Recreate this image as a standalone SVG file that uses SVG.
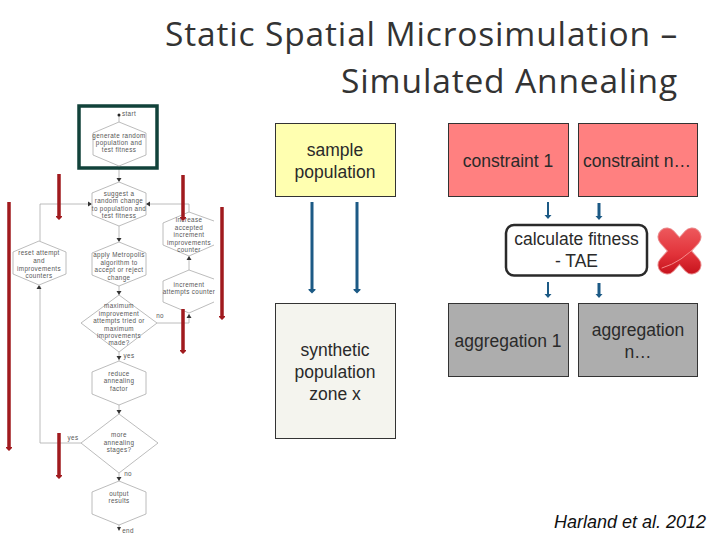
<svg xmlns="http://www.w3.org/2000/svg" width="720" height="540" viewBox="0 0 720 540">
<defs>
<linearGradient id="xg" gradientUnits="userSpaceOnUse" x1="680" y1="227" x2="680" y2="276"><stop offset="0" stop-color="#ee5a5e"/><stop offset=".55" stop-color="#e2333a"/><stop offset="1" stop-color="#c4101a"/></linearGradient>
</defs>
<style>
.t{font-family:"Liberation Sans",Arial,sans-serif;font-size:17.5px;fill:#2a2a2a;text-anchor:middle}
.ti{font-family:"Open Sans","Liberation Sans",sans-serif;font-size:33.5px;fill:#333;text-anchor:end;letter-spacing:.85px}
.f{font-family:"Liberation Sans",Arial,sans-serif;font-size:6.3px;letter-spacing:.36px;fill:#555;text-anchor:middle}
.h{fill:#fff;stroke:#ababab;stroke-width:.8}
.l{fill:none;stroke:#ababab;stroke-width:.8}
.box{stroke:#333;stroke-width:1}
.red{stroke:#a01a1e;stroke-width:3.500;fill:none}
.rh{fill:#a01a1e}
.blue{stroke:#1c5a85;stroke-width:3;fill:none}
.thin{stroke-width:2}
.bh{fill:#1c5a85}
.ah{fill:#333}
</style>
<rect width="720" height="540" fill="#fff"/>
<text class="ti" x="678" y="46">Static Spatial Microsimulation –</text>
<text class="ti" x="678" y="93">Simulated Annealing</text>

<g id="connectors">
<path class="l" d="M119 115V122M119 166V181M119 226V241M119 286V295M119 352V361M119 405V414M119 473V481M119 525V530M81 443H40V286M40 241V204H91M146 204H189V212M157 323H189V314M189 256V270"/>
<path class="ah" d="M119 182l-2.500-4h5zM119 242l-2.500-4h5zM119 295l-2.500-4h5zM119 360l-2.500-4h5zM119 414l-2.500-4h5zM119 481l-2.500-4h5zM119 531l-2-4h4zM92 204l-4-2.500v5zM146 204l4-2.500v5zM39 285l-2.500 4h5zM189 256l-2.500 4h5zM189 314l-2.500 4h5z"/>
</g>

<g id="flowchart" opacity=".99">
<g id="n-start"><rect x="79" y="106" width="78" height="62" fill="none" stroke="#0f4038" stroke-width="3.500"/><circle cx="119" cy="115" r="1.500" fill="#222"/><text class="f" x="129" y="116">start</text></g>
<g id="n-generate"><polygon class="h" points="119,122 146,133 146,155 119,166 93,155 93,133"/><text class="f" x="119" y="138">generate random</text><text class="f" x="119" y="145">population and</text><text class="f" x="119" y="152">test fitness</text></g>
<g id="n-suggest"><polygon class="h" points="119,182 146,193 146,215 119,226 92,215 92,193"/><text class="f" x="119" y="196">suggest a</text><text class="f" x="119" y="203">random change</text><text class="f" x="119" y="210.500">to population and</text><text class="f" x="119" y="218">test fitness</text></g>
<g id="n-apply"><polygon class="h" points="119,242 146,253 146,275 119,286 92,275 92,253"/><text class="f" x="119" y="257">apply Metropolis</text><text class="f" x="119" y="264.500">algorithm to</text><text class="f" x="119" y="272">accept or reject</text><text class="f" x="119" y="279.500">change</text></g>
<g id="n-reset"><polygon class="h" points="39,241 66,252 66,274 39,285 13,274 13,252"/><text class="f" x="39" y="255">reset attempt</text><text class="f" x="39" y="263">and</text><text class="f" x="39" y="270.500">improvements</text><text class="f" x="39" y="278">counters</text></g>
<g id="n-increase"><path class="h" d="M214 221L189 212L163 223V245L189 256L214 245"/><text class="f" x="189" y="222">increase</text><text class="f" x="189" y="230">accepted</text><text class="f" x="189" y="237">increment</text><text class="f" x="189" y="244.500">improvements</text><text class="f" x="189" y="252">counter</text></g>
<g id="n-increment"><path class="h" d="M214 279L189 270L163 281V302L189 313L214 302"/><text class="f" x="189" y="287">increment</text><text class="f" x="189" y="294">attempts counter</text></g>
<g id="n-max"><polygon class="h" points="119,295 157,323 119,352 81,323"/><text class="f" x="119" y="308">maximum</text><text class="f" x="119" y="315.500">improvement</text><text class="f" x="119" y="323">attempts tried or</text><text class="f" x="119" y="330.500">maximum</text><text class="f" x="119" y="338">improvements</text><text class="f" x="119" y="345">made?</text></g>
<g id="n-reduce"><polygon class="h" points="119,361 146,372 146,394 119,405 92,394 92,372"/><text class="f" x="119" y="376">reduce</text><text class="f" x="119" y="383">annealing</text><text class="f" x="119" y="390.500">factor</text></g>
<g id="n-more"><polygon class="h" points="119,414 158,443 119,473 81,443"/><text class="f" x="119" y="437">more</text><text class="f" x="119" y="444.500">annealing</text><text class="f" x="119" y="452">stages?</text></g>
<g id="n-output"><polygon class="h" points="119,481 146,492 146,514 119,525 92,514 92,492"/><text class="f" x="119" y="496">output</text><text class="f" x="119" y="503">results</text></g>
<g id="n-end"><text class="f" x="128" y="533">end</text></g>
<text class="f" x="160" y="318">no</text><text class="f" x="129" y="358">yes</text><text class="f" x="73" y="440">yes</text><text class="f" x="128" y="476">no</text>
</g>

<g id="red-arrows">
<path class="red" d="M59 174V216M183 175V217M9 202V447M222 207V316M183 309V350M59 433V475"/>
<path class="rh" d="M56 216h6v1l-3 3l-3-3zM180 217h6v1l-3 3l-3-3zM6 447h6v1l-3 3l-3-3zM219 316h6v1l-3 3l-3-3zM180 350h6v1l-3 3l-3-3zM56 475h6v1l-3 3l-3-3z"/>
</g>

<g id="sample"><rect class="box" x="275.500" y="123.500" width="120" height="73" fill="#ffffb0"/><text class="t" x="335" y="156">sample</text><text class="t" x="335" y="178">population</text></g>
<g id="synthetic"><rect class="box" x="275.500" y="303.500" width="120" height="135" fill="#f4f4ee"/><text class="t" x="335" y="356">synthetic</text><text class="t" x="335" y="378">population</text><text class="t" x="335" y="400">zone x</text></g>
<g id="constraint1"><rect class="box" x="448.500" y="123.500" width="120" height="73" fill="#ff8080"/><text class="t" x="508" y="167">constraint 1</text></g>
<g id="constraintn"><rect class="box" x="578.500" y="123.500" width="119" height="73" fill="#ff8080"/><text class="t" x="637" y="167">constraint n…</text></g>
<g id="fitness"><rect x="506" y="225" width="141" height="50.500" rx="8" fill="#fff" stroke="#2a2a2a" stroke-width="2.500"/><text class="t" x="576.500" y="245">calculate fitness</text><text class="t" x="576.500" y="267">- TAE</text></g>
<g id="aggregation1"><rect class="box" x="448.500" y="303.500" width="120" height="73" fill="#adadad"/><text class="t" x="508" y="347">aggregation 1</text></g>
<g id="aggregationn"><rect class="box" x="578.500" y="303.500" width="119" height="73" fill="#adadad"/><text class="t" x="638" y="336">aggregation</text><text class="t" x="638" y="358">n…</text></g>

<g id="blue-arrows">
<path class="blue" d="M312 202V290M357 202V290"/>
<path class="bh" d="M308.500 289h7v1l-3.500 3.500l-3.500-3.500zM353.500 289h7v1l-3.500 3.500l-3.500-3.500z"/>
<path class="blue thin" d="M548 202V216M548 282V295"/>
<path class="blue" d="M599 203V217M599 283V295"/>
<path class="bh" d="M544.500 215h7l-3.500 4zM544.500 294h7l-3.500 4zM595.500 216h7l-3.500 4zM595.500 294h7l-3.500 4z"/>
</g>

<g id="cross" stroke-linecap="round" fill="none">
<path d="M667 237L692 265M692 237L667 265" stroke="#e98a8c" stroke-width="19"/>
<path d="M667 237L692 265M692 237L667 265" stroke="url(#xg)" stroke-width="17"/>
<path d="M662 268Q682 262 698 244" stroke="#f58a8a" stroke-width="1"/>
</g>
<text x="630" y="528" text-anchor="middle" font-family="Liberation Sans,Arial,sans-serif" font-style="italic" font-size="18" fill="#111">Harland et al. 2012</text>
</svg>
